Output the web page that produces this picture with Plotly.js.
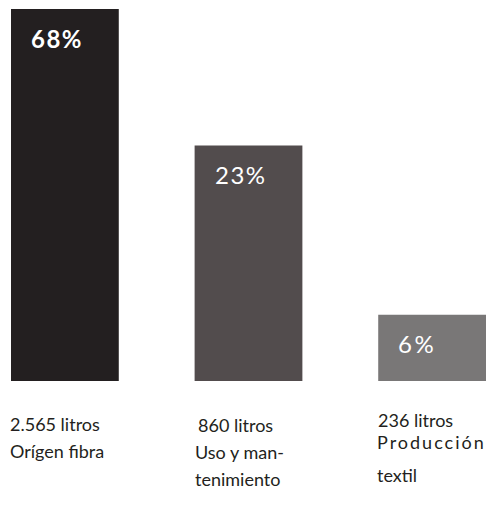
<!DOCTYPE html>
<html>
<head>
<meta charset="utf-8">
<script src="https://cdn.plot.ly/plotly-3.0.1.min.js"></script>
<style>
  html, body { margin: 0; padding: 0; background: #ffffff; }
  #chart { width: 486px; height: 510px; }
</style>
</head>
<body>
<div id="chart"></div>
<script>
// Water footprint of a garment, split by life-cycle stage
const stages = ["Orígen fibra", "Uso y mantenimiento", "Producción textil"];
const shares = [68, 23, 6];                      // percent of total
const shareLabels = ["68%", "23%", "6%"];
const litreLabels = ["2.565 litros", "860 litros", "236 litros"];
const nameLines = [
  ["Orígen fibra"],
  ["Uso y man-", "tenimiento"],
  ["Producción", "textil"]
];

const barColors = ["#231f20", "#524c4d", "#797777"];
const inkColor = "#231f20";
const barWidth = 0.587;
const half = barWidth / 2;
const xs = stages.map((_, i) => i);

// Bars: hidden log scale keeps the short bars tall enough to carry their label
const trace = {
  type: "bar",
  x: xs,
  y: shares,
  width: barWidth,
  marker: { color: barColors, line: { width: 0 } },
  hoverinfo: "skip",
  text: stages,
  textposition: "none"
};

const annotations = [];

// Percent inside each bar, near its top
shareLabels.forEach((t, i) => {
  annotations.push({
    x: xs[i] - half, y: Math.log10(shares[i]), xref: "x", yref: "y",
    text: t, showarrow: false, xanchor: "left", yanchor: "middle",
    xshift: 18, yshift: -29,
    font: { family: "Lato", size: 24, color: "#ffffff", weight: i === 0 ? 700 : 400 }
  });
});

// Captions under the bars, one annotation per line
const capFont = { family: "Lato", size: 18, color: inkColor };
const lineShift = [
  [-43, -70],
  [-44, -71, -98],
  [-39, -61, -94]
];
const capNudge = [[-3, -3], [1, -2, -2], [-2, -3, -3]];
stages.forEach((_, i) => {
  const lines = [litreLabels[i]].concat(nameLines[i]);
  lines.forEach((t, k) => {
    annotations.push({
      x: xs[i] - half, y: 0, xref: "x", yref: "paper",
      text: t, showarrow: false, xanchor: "left", yanchor: "middle",
      xshift: capNudge[i][k], yshift: lineShift[i][k],
      font: capFont
    });
  });
});

const layout = {
  width: 486, height: 510,
  margin: { l: 11, r: 0, t: 9, b: 129, pad: 0 },
  paper_bgcolor: "#ffffff", plot_bgcolor: "#ffffff",
  showlegend: false,
  xaxis: { range: [-half, xs.length - 1 + half], visible: false, fixedrange: true },
  yaxis: { type: "log", range: [0.55, Math.log10(68)], visible: false, fixedrange: true },
  annotations: annotations
};

// extra tracking for a few labels, keeping their left edge where it was
const tracking = { "68%": 1.5, "23%": 1.5, "6%": 2.5, "Producción": 2 };

Plotly.newPlot("chart", [trace], layout, { staticPlot: true, displayModeBar: false }).then(() => {
  document.querySelectorAll("#chart .annotation-text").forEach(el => {
    const sp = tracking[el.textContent];
    if (sp === undefined) return;
    const x0 = el.getBBox().x;
    el.style.letterSpacing = sp + "px";
    const dx = x0 - el.getBBox().x;
    const nodes = [el].concat(Array.from(el.querySelectorAll("tspan[x]")));
    nodes.forEach(n => {
      const ax = n.getAttribute("x");
      if (ax !== null) n.setAttribute("x", parseFloat(ax) + dx);
    });
  });
});
</script>
</body>
</html>
